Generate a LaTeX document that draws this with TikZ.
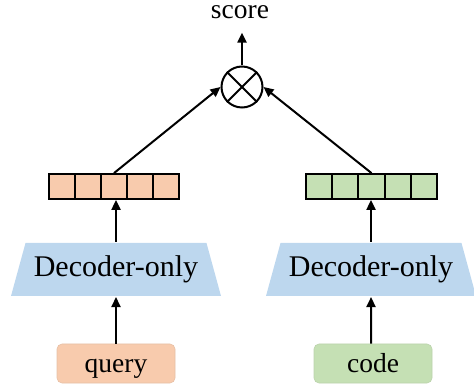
\documentclass[tikz,border=0pt]{standalone}
\usepackage{fontspec}
\setmainfont{Liberation Serif}
\usepackage{tikz}
\usetikzlibrary{positioning,shapes.geometric,arrows.meta}
\definecolor{peach}{HTML}{F8CBAD}
\definecolor{leaf}{HTML}{C5E0B4}
\definecolor{sky}{HTML}{BDD7EE}

\begin{document}
\begin{tikzpicture}[x=1pt,y=-1pt,line width=2pt,>={Triangle[length=10pt,width=9pt]},
  every node/.style={font=\fontsize{27.5}{33}\selectfont},
  cell/.style={draw,minimum width=26pt,minimum height=25pt,inner sep=0,line width=1.8pt},
  decoder/.style={trapezium,trapezium left angle=62,trapezium right angle=62,trapezium stretches body,
    fill=sky,minimum width=210pt,minimum height=53pt,inner sep=0,font=\fontsize{30}{36}\selectfont},
  inbox/.style={rounded corners=5pt,minimum width=118pt,minimum height=39pt,inner sep=0,
    text height=20pt,text depth=3pt,line width=0.6pt}]
\useasboundingbox (0,0) rectangle (474,387);
\node[inbox,fill=peach,draw=peach!85!gray] (query) at (116,363.5) {query};
\node[inbox,fill=leaf,draw=leaf!85!gray] (code) at (373,363.5) {code};
\node[decoder] (decq) at (116,269.5) {Decoder-only};
\node[decoder] (decc) at (371,269.5) {Decoder-only};
\foreach \i in {1,...,5} {
  \node[cell,fill=peach] (q\i) at (49+26*\i-13,186.5) {};
  \node[cell,fill=leaf] (c\i) at (306+26.2*\i-13.1,186.5) {};
}
\node[circle,draw,minimum size=41pt,inner sep=0] (mul) at (242,87) {};
\draw (mul.45) -- (mul.225) (mul.135) -- (mul.315);
\node[inner sep=0] (score) at (240,12) {score};
      \draw[->] (query) -- (decq);
      \draw[->] (code.north -| decc) -- (decc);
      \draw[->] (decq.north) -- (decq.north |- q3.south);
      \draw[->] (decc.north) -- (decc.north |- c3.south);
      \draw[->] (q3.north) -- (mul.west);
      \draw[->] (c3.north) -- (mul.east);
      \draw[->,shorten >=13pt] (mul.north) -- (score.south -| mul);
\end{tikzpicture}
\end{document}
